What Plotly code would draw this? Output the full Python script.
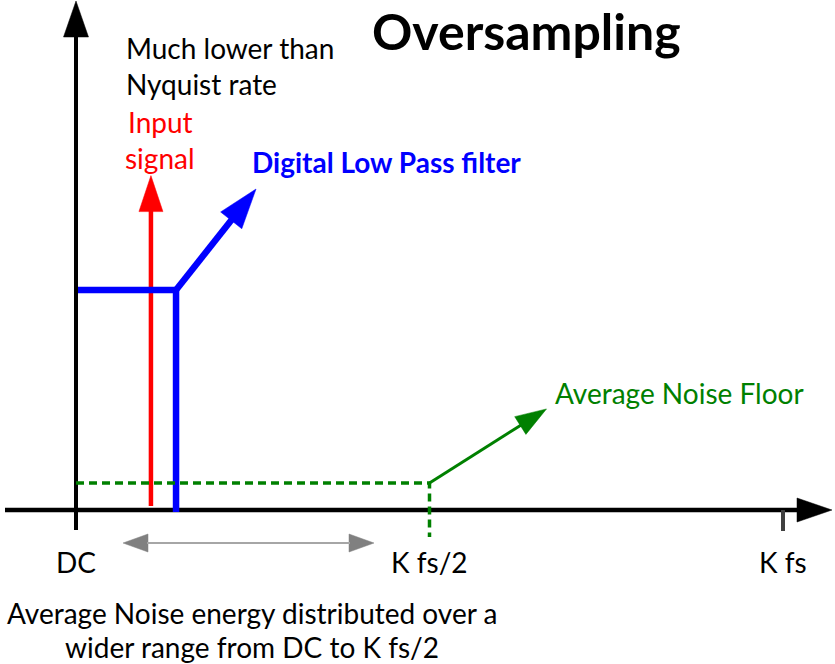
import plotly.graph_objects as go

# ---------------- data ----------------
freq_ticks = [0.0, 1.0, 2.0]                 # DC, K fs/2, K fs
freq_tick_labels = ["DC", "K fs/2", "K fs"]
signal_freq = 0.212                          # input signal position
signal_level = 1.52                          # input signal arrow height
cutoff_freq = 0.283                          # digital LPF cutoff
filter_gain = 1.0                            # LPF passband level
noise_floor = 0.123                          # average noise floor level
noise_band_end = 1.0                         # noise spread up to K fs/2
spread_span = [0.133, 0.843]                 # grey double arrow extent

# ---------------- geometry helpers ----------------
W, H = 835, 664
X0_PX, PX_PER_X = 76.0, 353.5
Y0_PX, PX_PER_Y = 510.0, 220.0
x_range = [-X0_PX / PX_PER_X, (W - X0_PX) / PX_PER_X]
y_range = [(Y0_PX - H) / PX_PER_Y, Y0_PX / PX_PER_Y]


def to_px(x, y):
    return X0_PX + x * PX_PER_X, Y0_PX - y * PX_PER_Y


def to_data(px, py):
    return (px - X0_PX) / PX_PER_X, (Y0_PX - py) / PX_PER_Y


fig = go.Figure()


def add_line(xs, ys, color, width, dash=None):
    fig.add_trace(go.Scatter(x=xs, y=ys, mode="lines",
                             line=dict(color=color, width=width, dash=dash),
                             hoverinfo="skip", showlegend=False))


def add_arrow(x0, y0, x1, y1, color, width, head_len, head_w,
              head_color=None, both=False):
    p0 = to_px(x0, y0)
    p1 = to_px(x1, y1)
    dx, dy = p1[0] - p0[0], p1[1] - p0[1]
    L = (dx * dx + dy * dy) ** 0.5
    ux, uy = dx / L, dy / L
    nx, ny = -uy, ux
    hc = head_color or color

    def head(tip, sgn):
        bx, by = tip[0] - sgn * ux * head_len, tip[1] - sgn * uy * head_len
        pts = [tip, (bx + nx * head_w / 2, by + ny * head_w / 2),
               (bx - nx * head_w / 2, by - ny * head_w / 2), tip]
        d = [to_data(*p) for p in pts]
        fig.add_trace(go.Scatter(x=[q[0] for q in d], y=[q[1] for q in d],
                                 mode="lines", fill="toself", fillcolor=hc,
                                 line=dict(color=hc, width=0.5),
                                 hoverinfo="skip", showlegend=False))
        return bx + sgn * ux * 1.0, by + sgn * uy * 1.0

    end = head(p1, 1)
    start = p0
    if both:
        start = head(p0, -1)
    a = to_data(*start)
    b = to_data(*end)
    add_line([a[0], b[0]], [a[1], b[1]], color, width)


# ---------------- axes (drawn as arrows) ----------------
add_arrow(0, to_data(0, 530)[1], 0, to_data(0, 1)[1], "black", 4, 36, 25)
add_arrow(to_data(5, 0)[0], 0, to_data(832, 0)[0], 0, "black", 4.5, 35, 24)
add_line([freq_ticks[2], freq_ticks[2]], [0.0, to_data(0, 531)[1]], "#404040", 4)

# ---------------- input signal ----------------
add_arrow(signal_freq, to_data(0, 506)[1], signal_freq, signal_level,
          "#ff0000", 4.5, 36, 24)

# ---------------- digital low pass filter ----------------
add_line([to_data(78, 0)[0], cutoff_freq, cutoff_freq],
         [filter_gain, filter_gain, to_data(0, 512)[1]], "#0000ff", 6.5)
cpx, cpy = to_px(cutoff_freq, filter_gain)
tip = to_data(cpx + 80, cpy - 101)
add_arrow(cutoff_freq, filter_gain, tip[0], tip[1], "#0000ff", 6.5, 40, 27)

# ---------------- noise floor ----------------
add_line([0, noise_band_end, noise_band_end],
         [noise_floor, noise_floor, to_data(0, 537)[1]],
         "#008000", 3.5, dash="8px,5px")
npx, npy = to_px(noise_band_end, noise_floor)
tip = to_data(npx + 117, npy - 74)
add_arrow(noise_band_end, noise_floor, tip[0], tip[1], "#008000", 3, 31, 21)

# ---------------- grey spread arrow ----------------
gy = to_data(0, 543)[1]
add_arrow(spread_span[0], gy, spread_span[1], gy, "#a6a6a6", 2, 25, 18,
          head_color="#808080", both=True)

# ---------------- texts ----------------
FONT = "Lato, 'Open Sans', sans-serif"
annos = []


def txt(text, px, py, size, color="black", bold=False, xanchor="left",
        yanchor="middle"):
    if bold:
        text = "<b>" + text + "</b>"
    annos.append(dict(text=text, x=px / W, y=1 - py / H, xref="paper",
                      yref="paper", xanchor=xanchor, yanchor=yanchor,
                      showarrow=False, borderpad=0,
                      font=dict(family=FONT, size=size, color=color)))


txt("Oversampling", 526, 0, 50, bold=True, xanchor="center", yanchor="top")
txt("Much lower than", 125, 48, 28)
txt("Nyquist rate", 125, 84, 28)
txt("Input", 160, 122, 28, color="#ff0000", xanchor="center")
txt("signal", 160, 158, 28, color="#ff0000", xanchor="center")
txt("Digital Low Pass filter", 251, 162, 28, color="#0000ff", bold=True)
txt("Average Noise Floor", 554, 393, 28, color="#008000")
txt("Average Noise energy distributed over a", 252, 613, 28, xanchor="center")
txt("wider range from DC to K fs/2", 252, 647, 28, xanchor="center")

for f, lab in zip(freq_ticks, freq_tick_labels):
    annos.append(dict(text=lab, x=f, y=1 - 562 / H, xref="x", yref="paper",
                      xanchor="center", yanchor="middle", showarrow=False,
                      font=dict(family=FONT, size=28, color="black")))

fig.update_layout(
    width=W, height=H, autosize=False,
    margin=dict(l=0, r=0, t=0, b=0, pad=0),
    paper_bgcolor="white", plot_bgcolor="white",
    xaxis=dict(range=x_range, visible=False, fixedrange=True),
    yaxis=dict(range=y_range, visible=False, fixedrange=True),
    annotations=annos,
    showlegend=False,
)

fig.write_html("out.html", config={"displayModeBar": False},
               post_script="document.body.style.margin='0';")
